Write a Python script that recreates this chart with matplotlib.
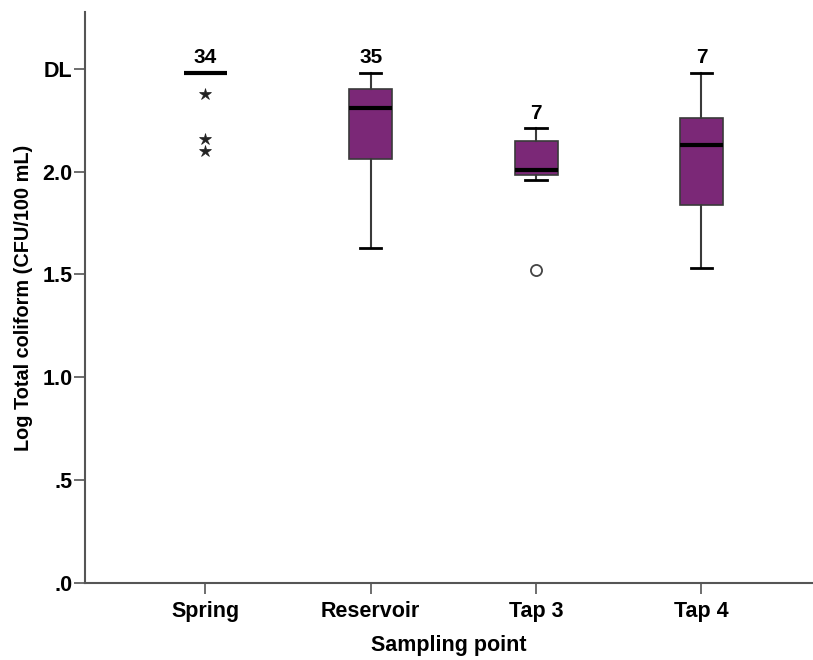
import matplotlib
matplotlib.use("Agg")
import matplotlib.pyplot as plt

plt.rcParams['font.family'] = ['Liberation Sans', 'DejaVu Sans']
plt.rcParams['font.weight'] = 'bold'

categories = ["Spring", "Reservoir", "Tap 3", "Tap 4"]
n_labels = ["34", "35", "7", "7"]
medians = [2.48, 2.31, 2.01, 2.13]
q1 = [2.48, 2.06, 1.985, 1.84]
q3 = [2.48, 2.40, 2.15, 2.26]
whis_lo = [2.48, 1.63, 1.96, 1.53]
whis_hi = [2.48, 2.48, 2.21, 2.48]
extremes = [[2.38, 2.16, 2.10], [], [], []]     # star markers
outliers = [[], [], [1.52], []]                  # circle markers
ytick_vals = [0.0, 0.5, 1.0, 1.5, 2.0, 2.5]
ytick_labels = [".0", ".5", "1.0", "1.5", "2.0", "DL"]

purple = "#7b2877"
edge = "#3a3a3a"

fig = plt.figure(figsize=(8.13, 6.6), dpi=100)
ax = fig.add_axes([0.1046, 0.1167, 0.8954, 0.8653])

positions = list(range(1, len(categories) + 1))
stats = []
for i in range(len(categories)):
    stats.append(dict(med=medians[i], q1=q1[i], q3=q3[i],
                      whislo=whis_lo[i], whishi=whis_hi[i], fliers=[]))

ax.bxp(stats, positions=positions, widths=0.26, capwidths=0.13,
       showfliers=False, patch_artist=True,
       boxprops=dict(facecolor=purple, edgecolor=edge, linewidth=1.2),
       medianprops=dict(color="black", linewidth=3, solid_capstyle='butt'),
       whiskerprops=dict(color=edge, linewidth=1.5),
       capprops=dict(color="black", linewidth=2))

for p, vals in zip(positions, extremes):
    if vals:
        ax.plot([p] * len(vals), vals, linestyle='none', marker='*',
                markersize=9, color='#222222', markeredgewidth=0.5)
for p, vals in zip(positions, outliers):
    if vals:
        ax.plot([p] * len(vals), vals, linestyle='none', marker='o',
                markersize=8, markerfacecolor='white', markeredgecolor='#444444',
                markeredgewidth=1.3)

for p, top, lab in zip(positions, whis_hi, n_labels):
    ax.annotate(lab, xy=(p, top), xytext=(0, 7), textcoords='offset points',
                ha='center', va='baseline', fontsize=15, fontweight='bold')

ax.set_xlim(0.272, 4.675)
ax.set_ylim(0, 2.777)
ax.set_xticks(positions)
ax.set_xticklabels(categories, fontsize=15.5, fontweight='bold')
ax.set_yticks(ytick_vals)
ax.set_yticklabels(ytick_labels, fontsize=15.5, fontweight='bold')
ax.tick_params(axis='both', direction='out', length=8, width=1.2, color='#555555')
ax.tick_params(axis='y', pad=1)
ax.tick_params(axis='x', pad=5)

for s in ['top', 'right']:
    ax.spines[s].set_visible(False)
for s in ['left', 'bottom']:
    ax.spines[s].set_color('#555555')
    ax.spines[s].set_linewidth(1.5)

ax.set_xlabel("Sampling point", fontsize=15.5, fontweight='bold', labelpad=9)
ax.set_ylabel("Log Total coliform (CFU/100 mL)", fontsize=14.3, fontweight='bold', labelpad=7)

fig.savefig("out.png", dpi=100)
